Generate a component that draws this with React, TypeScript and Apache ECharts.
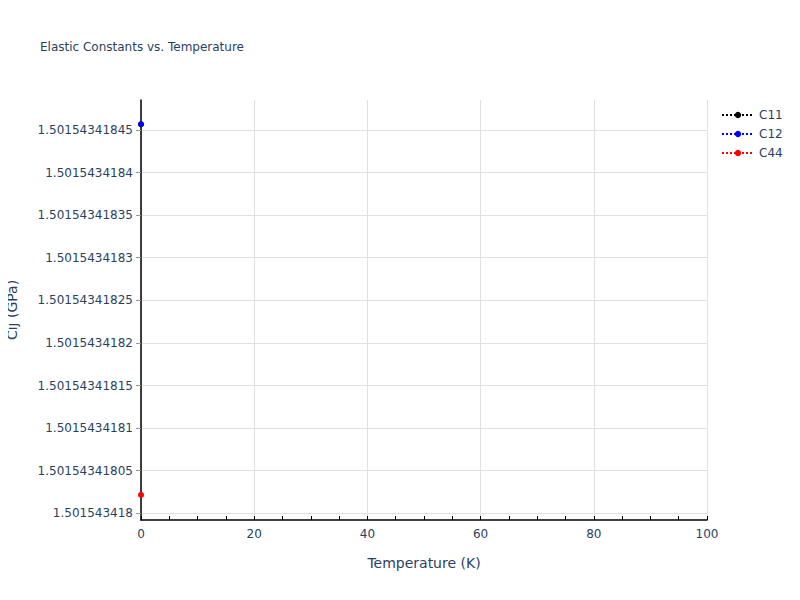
import React, { useEffect, useRef } from 'react';
import * as echarts from 'echarts';

const seriesNames = ['C11', 'C12', 'C44'];
const seriesColors = ['#000000', '#0000ff', '#ff0000'];
const temperatures = [0];
const c11Values = [1.5015434184567];
const c12Values = [1.5015434184567];
const c44Values = [1.5015434180215];

const textColor = '#2a3f5f';
const font = '"DejaVu Sans", Verdana, sans-serif';

const App: React.FC = () => {
  const chartRef = useRef<HTMLDivElement>(null);

  useEffect(() => {
    if (!chartRef.current) return;
    const chart = echarts.init(chartRef.current, undefined, { renderer: 'svg' });
    const allValues = [c11Values, c12Values, c44Values];

    chart.setOption({
      animation: false,
      backgroundColor: '#fff',
      textStyle: { fontFamily: font },
      title: {
        text: 'Elastic Constants vs. Temperature',
        left: 35,
        top: 36,
        textStyle: { fontSize: 12, fontWeight: 'normal', color: textColor, fontFamily: font },
      },
      legend: {
        orient: 'vertical',
        left: 716,
        top: 104,
        itemWidth: 32,
        itemHeight: 8,
        itemGap: 7,
        data: seriesNames,
        textStyle: { color: textColor, fontSize: 12, fontFamily: font },
      },
      grid: { left: 141, right: 93, top: 100, bottom: 80, outerBoundsMode: 'none' },
      xAxis: {
        type: 'value',
        min: 0,
        max: 100,
        interval: 20,
        name: 'Temperature (K)',
        nameLocation: 'middle',
        nameGap: 36,
        nameTextStyle: { color: textColor, fontSize: 14, fontFamily: font },
        axisLine: { show: true, onZero: false, lineStyle: { color: '#000', width: 1.5 } },
        axisTick: { show: true, inside: true, length: 4, lineStyle: { color: '#000' } },
        minorTick: { show: true, splitNumber: 4, length: 4, lineStyle: { color: '#000' } },
        axisLabel: { color: textColor, fontSize: 12, margin: 8, fontFamily: font },
        splitLine: { show: true, lineStyle: { color: '#e0e0e0' } },
      },
      yAxis: {
        type: 'value',
        scale: true,
        min: 1.5015434179921,
        max: 1.5015434184852,
        splitNumber: 9,
        name: 'Cij (GPa)',
        nameLocation: 'middle',
        nameGap: 122,
        nameTextStyle: { color: textColor, fontSize: 14, fontFamily: font },
        axisLine: { show: true, onZero: false, lineStyle: { color: '#000', width: 1.5 } },
        axisTick: { show: true, length: 5, lineStyle: { color: '#999' } },
        axisLabel: {
          color: textColor,
          fontSize: 12,
          margin: 8,
          fontFamily: font,
          showMinLabel: false,
          showMaxLabel: false,
          formatter: (v: number) => String(parseFloat(v.toFixed(11))),
        },
        splitLine: {
          show: true,
          showMinLine: false,
          showMaxLine: false,
          lineStyle: { color: '#e0e0e0' },
        },
      },
      series: seriesNames.map((name, i) => ({
        name,
        type: 'line',
        data: temperatures.map((t, j) => [t, allValues[i][j]]),
        symbol: 'circle',
        symbolSize: 6,
        showSymbol: true,
        color: seriesColors[i],
        itemStyle: { color: seriesColors[i] },
        lineStyle: { color: seriesColors[i], type: 'dotted', width: 2 },
      })),
    });

    const handleResize = () => chart.resize();
    window.addEventListener('resize', handleResize);
    return () => {
      window.removeEventListener('resize', handleResize);
      chart.dispose();
    };
  }, []);

  return <div ref={chartRef} style={{ width: '800px', height: '600px', margin: '-8px' }} />;
};

export default App;
